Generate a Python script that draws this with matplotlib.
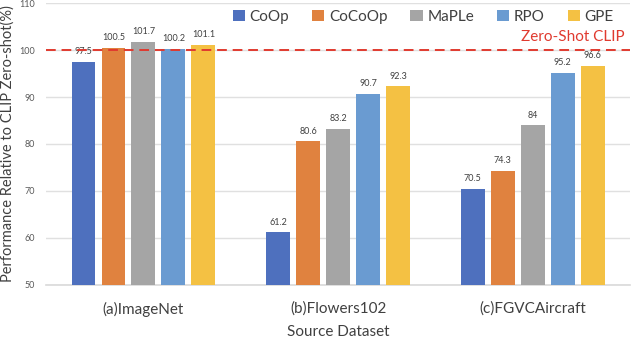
import matplotlib
matplotlib.use("Agg")
import matplotlib.pyplot as plt
import numpy as np

categories = ["(a)ImageNet", "(b)Flowers102", "(c)FGVCAircraft"]
methods = ["CoOp", "CoCoOp", "MaPLe", "RPO", "GPE"]
values = {
    "CoOp": [97.5, 61.2, 70.5],
    "CoCoOp": [100.5, 80.6, 74.3],
    "MaPLe": [101.7, 83.2, 84],
    "RPO": [100.2, 90.7, 95.2],
    "GPE": [101.1, 92.3, 96.6],
}
labels = {
    "CoOp": ["97.5", "61.2", "70.5"],
    "CoCoOp": ["100.5", "80.6", "74.3"],
    "MaPLe": ["101.7", "83.2", "84"],
    "RPO": ["100.2", "90.7", "95.2"],
    "GPE": ["101.1", "92.3", "96.6"],
}
colors = ["#4e70be", "#e0823f", "#a5a5a5", "#6a9bd1", "#f4c143"]
zero_shot = 100

plt.rcParams['font.family'] = ['Lato', 'DejaVu Sans']
fig = plt.figure(figsize=(6.32, 3.38), dpi=100)
ax = fig.add_axes([0.073, 0.157, 0.924, 0.834])

x = np.arange(len(categories))
pitch = 0.154
width = 0.123
for i, m in enumerate(methods):
    xs = x + (i - 2) * pitch
    ax.bar(xs, np.array(values[m]) - 50, width, bottom=50, color=colors[i], label=m, zorder=3)
    for xi, v, t in zip(xs, values[m], labels[m]):
        ax.text(xi, v + 1.2, t, ha="center", va="bottom", fontsize=6.5, color="#404040", zorder=4)

ax.axhline(zero_shot, color="#e03a2f", linestyle=(0, (5, 3)), linewidth=1.4, zorder=5)
ax.text(2.5 - 0.03, zero_shot + 1.2, "Zero-Shot CLIP", color="#e03a2f", fontsize=11, ha="right", va="bottom")

ax.set_xlim(-0.5, 2.5)
ax.set_ylim(50, 110)
ax.set_yticks(np.arange(50, 111, 10))
ax.tick_params(axis="y", labelsize=6.5, colors="#595959", length=0, pad=8)
ax.tick_params(axis="x", labelsize=11, colors="#404040", length=0, pad=12)
ax.set_xticks(x)
ax.set_xticklabels(categories)
ax.grid(axis="y", color="#e0e0e0", linewidth=1, zorder=0)
for s in ["top", "right", "left"]:
    ax.spines[s].set_visible(False)
ax.spines["bottom"].set_color("#d9d9d9")
ax.spines["bottom"].set_linewidth(1.2)

ax.set_ylabel("Performance Relative to CLIP Zero-shot(%)", fontsize=10.5, color="#404040", labelpad=3)
ax.set_xlabel("Source Dataset", fontsize=11, color="#404040", labelpad=6)

leg = ax.legend(loc="upper right", ncol=5, frameon=False, fontsize=11, handlelength=0.8,
                handleheight=0.8, handletextpad=0.3, columnspacing=1.5,
                bbox_to_anchor=(0.995, 1.025), labelcolor="#404040")

fig.savefig("out.png", dpi=100)
